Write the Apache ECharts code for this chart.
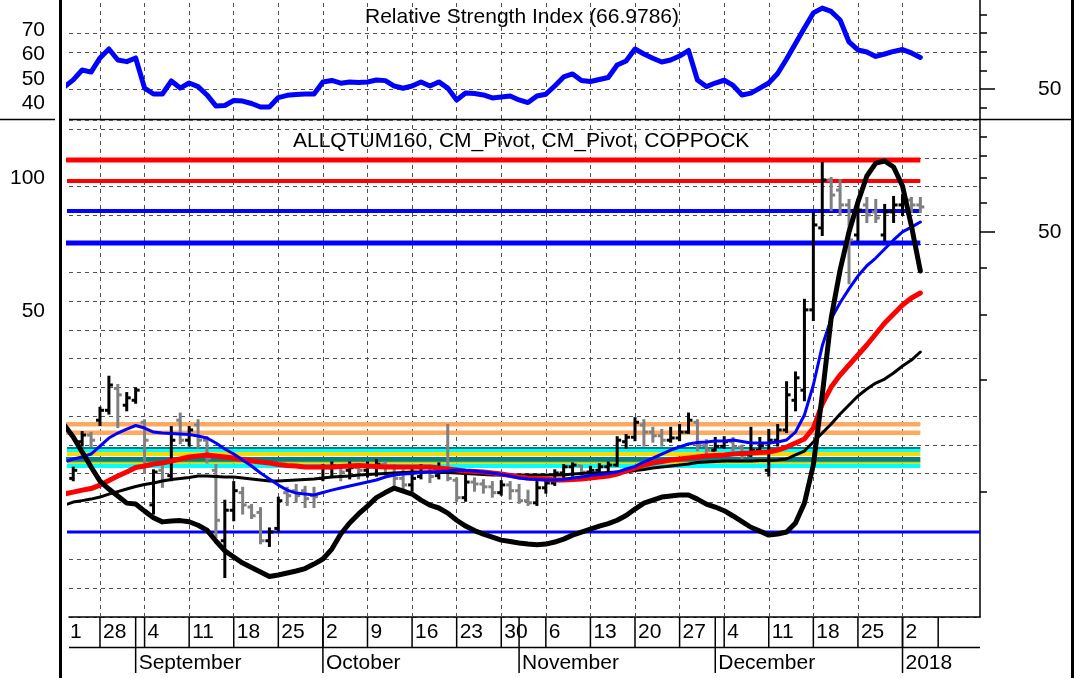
<!DOCTYPE html>
<html>
<head>
<meta charset="utf-8">
<script src="https://cdn.jsdelivr.net/npm/echarts@6/dist/echarts.min.js"></script>
<style>
  html, body { margin: 0; padding: 0; background: #fff; }
  #chart { width: 1075px; height: 678px; }
</style>
</head>
<body>
<div id="chart"></div>
<script>
// trading-day index of the first value (day 0 = Mon 21 Aug 2017, weekdays only)
const firstDay = 1;

const rsi = [51.1,54.9,60.2,59.1,66.7,71.5,65.6,64.7,66.7,50.5,
  47.3,47.3,54.3,50.5,53.2,51.3,46.8,40.9,41.1,43.8,
  43.5,42.2,40.3,40.3,45.4,46.6,47.0,47.3,47.3,53.8,
  54.6,53.1,53.8,53.5,53.8,54.8,54.5,51.6,50.4,51.6,
  53.8,51.6,53.8,50.5,44.1,47.8,47.6,46.8,45.2,45.7,
  46.2,44.1,42.7,46.2,47.2,51.6,56.5,58.1,54.6,54.0,
  55.1,56.2,62.9,65.1,71.5,68.8,66.5,64.5,65.6,67.7,
  70.7,54.8,51.3,53.2,54.7,51.9,46.8,47.8,50.5,53.2,
  58.3,66.1,74.5,82.8,90.9,93.5,91.7,87.1,75.3,71.0,
  69.9,67.5,68.8,70.2,71.2,69.4,66.98];

const open = [25.5,20.9,25.3,26.2,28.3,29.8,33.4,30.6,31.4,28.0,
  18.2,21.8,21.2,28.3,25.5,27.6,25.5,21.8,15.1,17.7,
  19.4,18.0,17.5,15.1,16.1,19.4,19.6,19.6,19.1,20.9,
  22.1,22.3,21.8,22.1,21.8,22.2,22.5,22.3,20.9,20.2,
  21.1,22.1,21.2,21.8,20.7,18.9,20.5,20.3,20.0,19.4,
  20.2,19.6,18.6,18.4,19.9,20.4,21.5,22.2,22.3,21.6,
  21.8,22.2,22.4,25.3,25.9,27.6,26.6,26.1,25.5,25.8,
  26.6,28.0,24.8,24.2,24.7,25.3,24.6,23.6,24.2,21.8,
  25.5,26.9,31.4,33.1,50.3,77.1,99.0,93.9,86.9,74.3,
  86.9,83.8,74.3,83.8,86.9,89.2,86.9];
const high = [26.9,22.1,26.6,26.5,30.2,35.5,34.0,32.6,33.4,28.3,
  21.8,22.2,27.3,29.3,27.3,28.3,25.9,22.4,18.6,20.5,
  19.9,18.2,17.9,16.1,18.9,19.9,20.2,20.0,19.9,22.4,
  22.7,22.4,22.7,22.4,22.7,23.0,22.7,22.4,21.8,22.1,
  22.4,22.3,22.6,27.6,20.9,21.2,20.9,20.7,20.5,20.6,
  20.5,20.2,19.6,20.5,20.9,21.8,22.4,22.6,22.3,22.2,
  22.5,22.7,25.9,26.2,28.6,28.3,27.2,26.9,27.2,27.6,
  29.3,28.3,25.5,25.8,25.9,25.8,24.8,27.2,25.8,26.9,
  27.6,34.5,36.3,53.0,83.3,108.1,100.0,99.0,89.2,89.2,
  90.1,89.2,86.9,90.6,91.5,90.1,90.1];
const low = [24.2,20.7,24.8,24.7,27.6,29.3,27.3,29.8,31.0,21.5,
  17.4,20.0,20.7,25.1,24.8,24.5,22.7,15.4,12.5,16.8,
  17.4,17.0,14.9,14.7,15.9,18.2,18.5,18.0,18.0,20.7,
  21.2,20.7,20.9,20.9,21.1,21.2,21.1,20.2,19.6,19.6,
  20.9,20.5,20.9,20.7,18.6,18.6,19.6,19.4,19.0,19.2,
  18.8,18.4,18.2,18.2,19.4,20.2,20.9,21.2,20.9,20.9,
  21.1,21.4,22.3,24.5,25.5,24.8,25.3,24.8,25.3,25.5,
  26.5,24.2,23.6,24.2,24.5,24.2,23.2,23.5,24.0,21.2,
  24.8,26.6,29.8,31.4,47.7,74.3,84.6,82.5,57.8,72.4,
  79.5,79.5,72.4,79.5,82.5,83.8,83.8];
const close = [25.8,21.8,26.2,25.5,29.8,34.0,32.3,31.8,33.1,25.5,
  21.6,20.7,25.5,25.5,26.9,25.5,23.2,16.8,17.7,19.6,
  18.2,17.2,15.1,15.8,18.6,19.1,19.1,18.8,19.0,22.1,
  22.3,21.6,22.1,21.8,22.2,22.5,22.3,20.9,20.2,20.9,
  22.1,21.1,22.1,20.9,18.9,20.5,20.3,20.0,19.4,20.2,
  19.6,18.6,18.4,19.9,20.4,21.5,22.2,22.4,21.6,21.8,
  22.2,22.4,25.5,25.9,28.0,26.6,26.1,25.5,25.8,26.6,
  28.3,24.8,24.2,24.7,25.3,24.6,23.6,24.2,24.8,25.5,
  26.9,32.3,35.3,50.3,78.3,99.0,91.5,86.9,72.4,84.6,
  82.5,81.2,83.8,86.9,89.2,86.9,86.0];

const maBlue = [22.76,23.12,23.36,23.73,24.74,25.79,26.47,27.03,27.53,27.17,
  26.61,26.47,26.40,26.34,26.27,26.06,25.79,25.13,24.36,23.73,
  23.00,22.29,21.49,20.83,20.18,19.66,19.36,19.26,19.16,19.41,
  19.66,19.87,20.08,20.29,20.50,20.72,21.05,21.27,21.38,21.43,
  21.54,21.60,21.66,21.72,21.83,21.78,21.72,21.60,21.49,21.32,
  21.16,20.94,20.83,20.78,20.72,20.72,20.78,20.94,21.05,21.21,
  21.32,21.43,21.60,21.95,22.24,22.76,23.24,23.73,24.23,24.61,
  25.00,25.20,25.26,25.39,25.39,25.53,25.33,25.13,25.13,25.13,
  25.26,25.53,26.61,29.08,34.0,41.7,48.0,52.2,56.1,60.0,
  63.3,65.9,69.1,72.4,75.5,77.4,79.5];
const maRed = [19.26,19.46,19.66,19.82,20.18,20.67,21.16,21.60,22.12,22.29,
  22.52,22.64,22.88,23.12,23.36,23.48,23.61,23.48,23.36,23.24,
  23.06,22.88,22.76,22.64,22.47,22.35,22.29,22.18,22.18,22.18,
  22.18,22.24,22.29,22.35,22.29,22.24,22.18,22.18,22.18,22.18,
  22.18,22.18,22.06,21.95,21.83,21.72,21.66,21.60,21.49,21.38,
  21.21,21.05,20.94,20.89,20.83,20.72,20.72,20.78,20.83,20.94,
  21.05,21.16,21.38,21.72,22.06,22.41,22.64,22.82,23.00,23.12,
  23.24,23.36,23.48,23.55,23.61,23.73,23.79,23.85,23.92,23.98,
  24.23,24.61,25.13,25.66,27.17,30.79,33.64,35.81,37.73,39.75,
  41.88,44.35,46.96,49.22,51.58,53.50,54.92];
const maBlack = [18.18,18.47,18.61,18.76,18.96,19.26,19.51,19.77,20.03,20.24,
  20.40,20.61,20.78,20.89,21.00,21.16,21.16,21.10,21.05,21.05,
  20.94,20.83,20.72,20.61,20.61,20.67,20.72,20.78,20.83,20.94,
  21.05,21.10,21.16,21.27,21.32,21.38,21.43,21.49,21.54,21.60,
  21.60,21.60,21.54,21.54,21.49,21.43,21.38,21.32,21.27,21.27,
  21.27,21.27,21.27,21.27,21.27,21.27,21.27,21.38,21.43,21.49,
  21.49,21.54,21.60,21.60,21.78,21.89,22.06,22.18,22.29,22.41,
  22.52,22.70,22.76,22.82,22.88,22.88,22.88,22.88,22.94,22.94,
  23.00,23.12,23.61,24.10,25.26,26.47,27.75,29.23,30.63,32.10,
  33.29,34.35,35.07,36.19,37.54,38.73,40.38];
const coppock = [27.60,25.93,23.98,22.18,20.61,19.77,19.06,18.37,18.28,17.62,
  17.03,16.66,16.74,16.77,16.67,16.37,15.96,15.08,14.33,13.87,
  13.44,13.13,12.83,12.53,12.63,12.76,12.90,13.06,13.37,13.73,
  14.46,15.64,16.56,17.36,18.09,18.91,19.41,19.87,19.56,19.26,
  18.66,18.18,17.91,17.44,16.80,16.30,15.92,15.63,15.39,15.15,
  15.04,14.92,14.84,14.79,14.84,15.00,15.23,15.55,15.80,16.05,
  16.30,16.51,16.80,17.22,17.81,18.37,18.66,18.96,19.06,19.16,
  19.16,18.76,18.28,18.00,17.66,17.18,16.68,16.20,15.88,15.55,
  15.64,15.80,16.56,18.37,22.41,32.27,48.21,61.9,75.5,88.2,
  101.05,108.1,109.26,105.9,95.9,77.9,61.6];

// pivot / support levels (price)
const levelValues = [109.8, 98.5, 84.2, 71.3, 27.7, 26.5, 24.42, 24.17, 23.73, 23.06, 22.66, 22.29, 15.8];

// calendar
const weekStarts = [0,5,10,15,20,25,30,35,40,45,50,55,60,65,70,75,80,85,90,95,99];
const weekLabels = ['21','28','4','11','18','25','2','9','16','23','30','6','13','20','27','4','11','18','25','2',''];
const monthStarts = [9,30,52,74,95];
const monthLabels = ['September','October','November','December','2018'];

// axis ticks / labels
const rsiRightTicks = [40,50,60,70,80,90];
const rsiLeftLabels = [40,50,60,70];
const rsiGridLevels = [50,70,80];
const priceLeftLabels = [50,100];
const priceRightTicks = [10,20,30,40,50,60,70,80,90];
const rightLabels = [50];

// ---- layout ----
const FONT = '"Liberation Sans", Arial, sans-serif';
const X0 = 55.4, DX = 8.917;          // px of day 0, px per day
const PLOT_L = 69, PLOT_R = 980;
const xMin = (PLOT_L - X0) / DX, xMax = (PLOT_R - X0) / DX;
const lastDay = firstDay + rsi.length - 1;
const gridWeeks = weekStarts.filter(d => d > xMin && d <= lastDay);

const pairs = arr => arr.map((v, k) => [firstDay + k, v]);
const ohlc = open.map((o, k) => [firstDay + k, o, high[k], low[k], close[k]]);

const levelStyles = [
  ['#ff0000', 5], ['#ff0000', 4], ['#0000ff', 4], ['#0000ff', 5],
  ['#ffa95e', 4.5], ['#ffa95e', 4.5],
  ['#008080', 3], ['#00ffff', 3], ['#ffd700', 4], ['#008080', 5], ['#c8d200', 2], ['#00ffff', 4],
  ['#0000ff', 3]
];

const dash = { type: [4, 4], color: '#505050', width: 1 };

function renderBar(params, api) {
  const x = api.value(0);
  const o = api.coord([x, api.value(1)]);
  const h = api.coord([x, api.value(2)]);
  const l = api.coord([x, api.value(3)]);
  const c = api.coord([x, api.value(4)]);
  const color = api.value(4) >= api.value(1) ? '#000000' : '#808080';
  const st = { stroke: color, lineWidth: 3 };
  return {
    type: 'group',
    children: [
      { type: 'line', shape: { x1: h[0], y1: h[1] - 1, x2: l[0], y2: l[1] + 1 }, style: st },
      { type: 'line', shape: { x1: o[0] - 4, y1: o[1], x2: o[0], y2: o[1] }, style: st },
      { type: 'line', shape: { x1: c[0], y1: c[1], x2: c[0] + 4, y2: c[1] }, style: st }
    ]
  };
}

function renderWeek(params, api) {
  const d = api.value(0);
  const top = api.coord([d, 2]);
  const mid = api.coord([d, 1]);
  return {
    type: 'group',
    children: [
      { type: 'line', shape: { x1: top[0], y1: top[1], x2: mid[0], y2: mid[1] }, style: { stroke: '#000', lineWidth: 1.5 } },
      { type: 'text', x: top[0] + 3, y: (top[1] + mid[1]) / 2,
        style: { text: weekLabels[params.dataIndex], fill: '#000', font: '21px ' + FONT, textAlign: 'left', textVerticalAlign: 'middle' } }
    ]
  };
}

function renderMonth(params, api) {
  const d = api.value(0);
  const top = api.coord([d, 2]);
  const mid = api.coord([d, 1]);
  const bot = api.coord([d, 0]);
  return {
    type: 'group',
    children: [
      { type: 'line', shape: { x1: top[0], y1: top[1], x2: bot[0], y2: bot[1] - 5 }, style: { stroke: '#000', lineWidth: 1.5 } },
      { type: 'text', x: mid[0] + 3, y: (mid[1] + bot[1]) / 2,
        style: { text: monthLabels[params.dataIndex], fill: '#000', font: '21px ' + FONT, textAlign: 'left', textVerticalAlign: 'middle' } }
    ]
  };
}

const labelStyle = { color: '#000', fontSize: 21, fontFamily: FONT };
const noAxis = { axisLine: { show: false }, axisTick: { show: false }, axisLabel: { show: false }, splitLine: { show: false } };

const series = [];

// pivot levels (the first one also carries the price panel's weekly gridlines)
levelValues.forEach((v, i) => {
  const end = i === levelValues.length - 1 ? xMax : lastDay;
  series.push({
    type: 'line', xAxisIndex: 1, yAxisIndex: 3, symbol: 'none', z: 2,
    lineStyle: { color: levelStyles[i][0], width: levelStyles[i][1] },
    data: [[0, v], [end, v]],
    markLine: i === 0 ? {
      silent: true, symbol: 'none', z: 1, label: { show: false }, lineStyle: dash,
      data: gridWeeks.map(d => ({ xAxis: d }))
    } : undefined
  });
});

series.push({
  type: 'custom', xAxisIndex: 1, yAxisIndex: 3, z: 3, clip: true,
  renderItem: renderBar, encode: { x: 0, y: [1, 2, 3, 4] }, data: ohlc
});

[[maBlack, '#000000', 3], [maRed, '#ff0000', 5], [maBlue, '#0000ff', 3], [coppock, '#000000', 5]].forEach(([arr, color, w]) => {
  series.push({
    type: 'line', xAxisIndex: 1, yAxisIndex: 3, symbol: 'none', z: 4,
    lineStyle: { color: color, width: w, cap: 'round', join: 'round' }, data: pairs(arr)
  });
});

series.push({
  type: 'line', xAxisIndex: 0, yAxisIndex: 0, symbol: 'none', z: 4,
  lineStyle: { color: '#0000ff', width: 5, cap: 'round', join: 'round' }, data: pairs(rsi),
  markLine: {
    silent: true, symbol: 'none', z: 1, label: { show: false }, lineStyle: dash,
    data: gridWeeks.map(d => ({ xAxis: d })).concat(rsiGridLevels.map(v => ({ yAxis: v })))
  }
});

series.push({
  type: 'custom', xAxisIndex: 2, yAxisIndex: 7, clip: true, renderItem: renderWeek,
  data: weekStarts.map(d => [d])
});
series.push({
  type: 'custom', xAxisIndex: 2, yAxisIndex: 7, clip: true, renderItem: renderMonth,
  data: monthStarts.map(d => [d])
});

const option = {
  animation: false,
  backgroundColor: '#fff',
  title: [
    { text: 'Relative Strength Index (66.9786)', left: 365, top: 7, padding: 0,
      textStyle: { fontSize: 21, fontWeight: 'normal', color: '#000', fontFamily: FONT } },
    { text: 'ALLQTUM160, CM_Pivot, CM_Pivot, COPPOCK', left: 293, top: 131, padding: 0,
      textStyle: { fontSize: 21, fontWeight: 'normal', color: '#000', fontFamily: FONT } }
  ],
  grid: [
    { left: PLOT_L, top: 0, width: PLOT_R - PLOT_L, height: 119 },
    { left: PLOT_L, top: 120, width: PLOT_R - PLOT_L, height: 497 },
    { left: PLOT_L, top: 617, width: PLOT_R - PLOT_L, height: 61 }
  ],
  xAxis: [
    Object.assign({ type: 'value', gridIndex: 0, min: xMin, max: xMax }, noAxis),
    Object.assign({ type: 'value', gridIndex: 1, min: xMin, max: xMax }, noAxis,
      { axisLine: { show: true, onZero: false, lineStyle: { color: '#000', width: 1.5 } } }),
    Object.assign({ type: 'value', gridIndex: 2, min: xMin, max: xMax }, noAxis)
  ],
  yAxis: [
    { type: 'value', gridIndex: 0, position: 'right', min: 33.87, max: 97.85,
      axisLine: { show: true, lineStyle: { color: '#000', width: 1.5 } },
      axisTick: { show: true, customValues: rsiRightTicks, length: 7, lineStyle: { color: '#000', width: 1.5 } },
      axisLabel: { show: false }, splitLine: { show: false } },
    { type: 'value', gridIndex: 0, position: 'right', min: 33.87, max: 97.85,
      axisLine: { show: false },
      axisTick: { show: true, customValues: rightLabels, length: 15, lineStyle: { color: '#000', width: 1.5 } },
      axisLabel: Object.assign({ customValues: rightLabels, margin: 58 }, labelStyle), splitLine: { show: false } },
    { type: 'value', gridIndex: 0, position: 'left', min: 33.56, max: 82.39,
      axisLine: { show: false }, axisTick: { show: false }, splitLine: { show: false },
      axisLabel: Object.assign({ customValues: rsiLeftLabels, margin: 24 }, labelStyle) },
    { type: 'log', gridIndex: 1, position: 'left', min: 10.148, max: 135.3,
      axisLine: { show: false }, axisTick: { show: false }, splitLine: { show: false }, minorSplitLine: { show: false },
      axisLabel: Object.assign({ customValues: priceLeftLabels, margin: 24 }, labelStyle) },
    { type: 'log', gridIndex: 1, position: 'right', min: 4.608, max: 100,
      axisLine: { show: true, lineStyle: { color: '#000', width: 1.5 } },
      axisTick: { show: true, customValues: priceRightTicks, length: 7, lineStyle: { color: '#000', width: 1.5 } },
      axisLabel: { show: false }, splitLine: { show: false } },
    { type: 'log', gridIndex: 1, position: 'right', min: 4.608, max: 100,
      axisLine: { show: false },
      axisTick: { show: true, customValues: rightLabels, length: 15, lineStyle: { color: '#000', width: 1.5 } },
      axisLabel: Object.assign({ customValues: rightLabels, margin: 58 }, labelStyle), splitLine: { show: false } },
    { type: 'value', gridIndex: 1, position: 'left', min: 0, max: 17.32, interval: 1,
      axisLine: { show: false }, axisTick: { show: false }, axisLabel: { show: false },
      splitLine: { show: true, lineStyle: dash } },
    Object.assign({ type: 'value', gridIndex: 2, min: 0, max: 2 }, noAxis)
  ],
  graphic: [
    { type: 'rect', shape: { x: 59, y: 0, width: 3, height: 678 }, style: { fill: '#000' } },
    { type: 'rect', shape: { x: 1071, y: 0, width: 3, height: 678 }, style: { fill: '#000' } },
    { type: 'line', shape: { x1: 0, y1: 119.5, x2: 55, y2: 119.5 }, style: { stroke: '#000', lineWidth: 1.5 } },
    { type: 'line', shape: { x1: PLOT_L, y1: 119.5, x2: 1071, y2: 119.5 }, style: { stroke: '#000', lineWidth: 1.5 } },
    { type: 'line', shape: { x1: PLOT_L, y1: 647.5, x2: PLOT_R, y2: 647.5 }, style: { stroke: '#000', lineWidth: 1.5 } }
  ],
  series: series
};

const chart = echarts.init(document.getElementById('chart'), null, { renderer: 'canvas' });
chart.setOption(option);
</script>
</body>
</html>
